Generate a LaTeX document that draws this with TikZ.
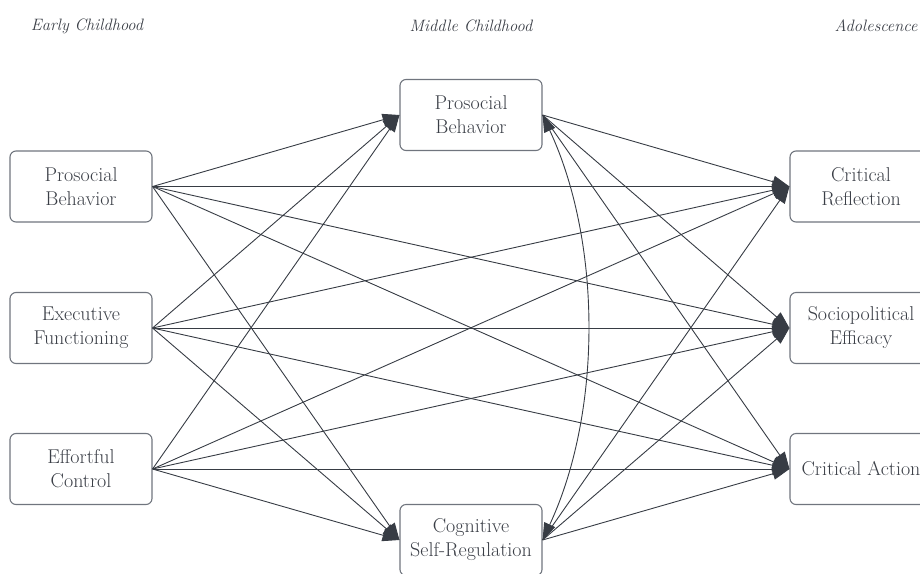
\documentclass[tikz,border=0pt]{standalone}
\usetikzlibrary{arrows.meta}
\definecolor{inkgray}{RGB}{58,62,70}
\definecolor{edgegray}{RGB}{55,60,68}
\definecolor{framegray}{RGB}{112,117,126}
\begin{document}
\begin{tikzpicture}[x=1pt,y=1pt,
  box/.style={draw=framegray, line width=1.1pt, rounded corners=6pt,
    minimum width=142pt, minimum height=71pt, inner sep=0pt, align=center,
    text=inkgray, font=\fontsize{20}{24}\selectfont},
  hdr/.style={text=inkgray, font=\fontsize{16.5}{19}\selectfont\itshape},
  edge/.style={draw=edgegray, line width=0.9pt,
    -{Triangle[length=17pt,width=12pt]}},
  bothway/.style={draw=edgegray, line width=0.9pt,
    {Triangle[length=17pt,width=12pt]}-{Triangle[length=17pt,width=12pt]}}]
\useasboundingbox (0,0) rectangle (920,-573);

% period headings
\node[hdr] (early) at (87,-26) {Early Childhood};
\node[hdr] (middle) at (471,-26) {Middle Childhood};
\node[hdr] (adol) at (876,-26) {Adolescence};

% early childhood
\node[box] (pb1) at (81,-186.5) {Prosocial\\Behavior};
\node[box] (efn) at (81,-328) {Executive\\Functioning};
\node[box] (ecl) at (81,-469) {Effortful\\Control};

% middle childhood
\node[box] (pb2) at (471,-115) {Prosocial\\Behavior};
\node[box] (csr) at (471,-540) {Cognitive\\Self-Regulation};

% adolescence
\node[box] (cr) at (861,-186.5) {Critical\\Reflection};
\node[box] (se) at (861,-328) {Sociopolitical\\Efficacy};
\node[box] (ca) at (861,-469) {Critical Action};

% early -> middle and adolescence
\foreach \s in {pb1,efn,ecl}{
  \draw[edge] (\s.east) -- (pb2.west);
  \draw[edge] (\s.east) -- (csr.west);
  \draw[edge] (\s.east) -- (cr.west);
  \draw[edge] (\s.east) -- (se.west);
  \draw[edge] (\s.east) -- (ca.west);
}
% middle -> adolescence
\foreach \s in {pb2,csr}{
  \draw[edge] (\s.east) -- (cr.west);
  \draw[edge] (\s.east) -- (se.west);
  \draw[edge] (\s.east) -- (ca.west);
}
% covariance between the middle-childhood measures
\draw[bothway] (pb2.east) to[out=-65,in=65,looseness=0.85] (csr.east);
\end{tikzpicture}
\end{document}
